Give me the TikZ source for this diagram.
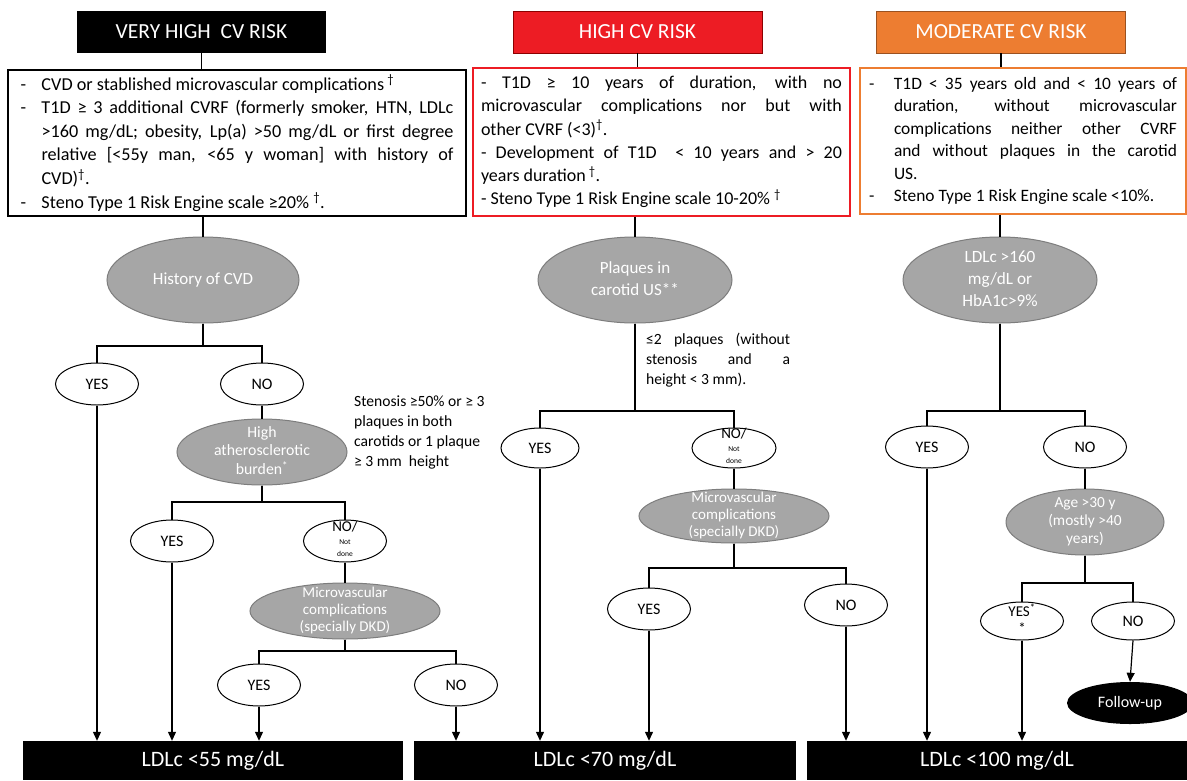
\documentclass[tikz,border=0pt]{standalone}
\usepackage{fontspec}
\setmainfont{Carlito}
\usetikzlibrary{shapes.geometric,arrows.meta}
\definecolor{hired}{RGB}{237,28,36}
\definecolor{modorange}{RGB}{237,125,49}
\definecolor{ellfill}{RGB}{166,166,166}
\definecolor{elldraw}{RGB}{125,125,125}
\newcommand\bul[1]{\noindent\hangindent=21pt\hangafter=1\makebox[21pt][l]{-}#1\par}
\newcommand\bulm[1]{\noindent\hangindent=25pt\hangafter=1\makebox[25pt][l]{-}#1\par}
\newcommand\ctext[1]{\smash{\makebox[0pt]{\raisebox{-0.25em}{\begin{tabular}{@{}c@{}}#1\end{tabular}}}}}
\begin{document}
\begin{tikzpicture}[x=1pt,y=-1pt,
  header/.style={rectangle, minimum width=249pt, minimum height=42pt, text=white, font=\fontsize{21.5}{24}\selectfont, inner sep=0pt},
  tbox/.style={rectangle, draw, line width=1.2pt, inner ysep=2pt, align=justify},
  gell/.style={ellipse, fill=ellfill, draw=elldraw, line width=1pt, text=white, inner sep=0pt},
  wel/.style={ellipse, draw=black, fill=white, line width=1pt, inner sep=0pt, minimum width=83pt, minimum height=42pt, font=\fontsize{16}{18}\selectfont},
  bar/.style={rectangle, fill=black, text=white, minimum height=39pt, inner sep=0pt, font=\fontsize{22}{24}\selectfont},
  conn/.style={line width=1.2pt},
  arr/.style={line width=1.2pt, -{Triangle[width=8pt,length=9pt]}},
  note/.style={font=\fontsize{15.6}{20}\selectfont, inner sep=0pt}
]
\useasboundingbox (0,0) rectangle (1187,780);
\fill[white] (0,0) rectangle (1187,780);

% headers
\node[header, fill=black] (h1) at (201.5,32) {VERY HIGH\ \ CV RISK};
\node[header, fill=hired, draw=red!55!black, line width=0.8pt] (h2) at (637.5,32) {HIGH CV RISK};
\node[header, fill=modorange, draw=modorange!65!black, line width=0.8pt] (h3) at (1001,32) {MODERATE CV RISK};

% criteria boxes
\node[tbox, draw=black, inner xsep=12.5pt, text width=433pt, minimum height=146pt, font=\fontsize{18.2}{23.6}\selectfont] (b1) at (237,143) {%
\bul{CVD or stablished microvascular complications\,\textsuperscript{†}}
\bul{T1D ≥ 3 additional CVRF (formerly smoker, HTN, LDLc\linebreak >160 mg/dL; obesity, Lp(a) >50 mg/dL or first degree\linebreak relative [<55y man, <65 y woman] with history of\linebreak CVD)\textsuperscript{†}.}
\bul{Steno Type 1 Risk Engine scale ≥20\% \textsuperscript{†}.}};

\node[tbox, draw=hired, inner xsep=8pt, text width=361pt, minimum height=148pt, font=\fontsize{18}{23.3}\selectfont] (b2) at (661.5,142) {%
\noindent - T1D ≥ 10 years of duration, with no\linebreak microvascular complications nor but with\linebreak other CVRF (<3)\textsuperscript{†}.\par
\noindent - Development of T1D\ \ < 10 years and > 20\linebreak years duration\,\textsuperscript{†}.\par
\noindent - Steno Type 1 Risk Engine scale 10-20\% \textsuperscript{†}\par};

\node[tbox, draw=modorange, inner xsep=9pt, text width=308pt, minimum height=146pt, font=\fontsize{17.4}{22.4}\selectfont] (b3) at (1023,141) {%
\bulm{T1D < 35 years old and < 10 years of\linebreak duration, without microvascular\linebreak complications neither other CVRF\linebreak and without plaques in the carotid\linebreak US.}
\bulm{Steno Type 1 Risk Engine scale <10\%.}};

% top decision ellipses
\node[gell, minimum width=192pt, minimum height=86pt, font=\fontsize{17}{20}\selectfont] (hist) at (203,280) {History of CVD};
\node[gell, minimum width=194pt, minimum height=86pt, font=\fontsize{17}{22}\selectfont] (plaq) at (635,280) {\ctext{Plaques in\\carotid US**}};
\node[gell, minimum width=194pt, minimum height=86pt, font=\fontsize{17.2}{22}\selectfont] (ldl) at (1000,280) {\ctext{LDLc >160\\mg/dL or\\HbA1c>9\%}};

\draw[conn] (h1.south) -- (h1.south |- b1.north);
\draw[conn] (h2.south) -- (h2.south |- b2.north);
\draw[conn] (h3.south) -- (h3.south |- b3.north);
\draw[conn] (hist.north |- b1.south) -- (hist.north);
\draw[conn] (plaq.north |- b2.south) -- (plaq.north);
\draw[conn] (ldl.north |- b3.south) -- (ldl.north);

% ---------- very high column
\coordinate (j1) at (203,346);
\node[wel] (y1) at (97,384) {YES};
\node[wel] (n1) at (262,384) {NO};
\draw[conn] (hist.south) -- (j1) -| (y1.north);
\draw[conn] (j1) -| (n1.north);
\node[gell, minimum width=170pt, minimum height=66pt, font=\fontsize{15.8}{18.5}\selectfont] (burden) at (262,452) {\ctext{High\\atherosclerotic\\burden\textsuperscript{*}}};
\draw[conn] (n1.south) -- (burden.north);
\node[note, anchor=north west, align=left] (sten) at (354,396) {Stenosis ≥50\% or ≥ 3\\plaques in both\\carotids or 1 plaque\\≥ 3 mm\ \ height};
\coordinate (j2) at (262,502);
\node[wel] (y2) at (172,541) {YES};
\node[wel, font=\fontsize{7.5}{12.5}\selectfont] (n2) at (345,541) {\ctext{{\fontsize{15}{14}\selectfont NO/}\\Not\\done}};
\draw[conn] (burden.south) -- (j2) -| (y2.north);
\draw[conn] (j2) -| (n2.north);
\node[gell, minimum width=190pt, minimum height=56pt, font=\fontsize{15}{17}\selectfont] (mv1) at (345,611) {\ctext{Microvascular\\complications\\(specially DKD)}};
\draw[conn] (n2.south) -- (mv1.north);
\coordinate (j3) at (345,651);
\node[wel] (y3) at (259,685) {YES};
\node[wel] (n3) at (456,685) {NO};
\draw[conn] (mv1.south) -- (j3) -| (y3.north);
\draw[conn] (j3) -| (n3.north);

% ---------- high column
\node[note, anchor=north west, text width=144pt, align=justify] (pl2) at (646,333) {≤2 plaques (without\linebreak stenosis and a\linebreak height < 3 mm).};
\coordinate (j4) at (635,411);
\node[wel, minimum width=78pt, minimum height=40pt] (y4) at (540,448) {YES};
\node[wel, minimum width=84pt, minimum height=40pt, font=\fontsize{7.5}{12.5}\selectfont] (n4) at (734,448) {\ctext{{\fontsize{15}{14}\selectfont NO/}\\Not\\done}};
\draw[conn] (plaq.south) -- (j4) -| (y4.north);
\draw[conn] (j4) -| (n4.north);
\node[gell, minimum width=190pt, minimum height=54pt, font=\fontsize{15}{17}\selectfont] (mv2) at (734,516) {\ctext{Microvascular\\complications\\(specially DKD)}};
\draw[conn] (n4.south) -- (mv2.north);
\coordinate (j5) at (734,568);
\node[wel] (y5) at (649,609) {YES};
\node[wel] (n5) at (846,605) {NO};
\draw[conn] (mv2.south) -- (j5) -| (y5.north);
\draw[conn] (j5) -| (n5.north);

% ---------- moderate column
\coordinate (j6) at (1000,411);
\node[wel] (y6) at (927,447) {YES};
\node[wel] (n6) at (1085,447) {NO};
\draw[conn] (ldl.south) -- (j6) -| (y6.north);
\draw[conn] (j6) -| (n6.north);
\node[gell, minimum width=158pt, minimum height=66pt, font=\fontsize{15.4}{18}\selectfont] (age) at (1085,522) {\ctext{Age >30 y\\(mostly >40\\years)}};
\draw[conn] (n6.south) -- (age.north);
\coordinate (j7) at (1085,583);
\node[wel, minimum height=38pt, font=\fontsize{15}{17}\selectfont] (y7) at (1022,621) {\ctext{YES\textsuperscript{*}\\**}};
\node[wel, minimum height=38pt] (n7) at (1133,621) {NO};
\draw[conn] (age.south) -- (j7) -| (y7.north);
\draw[conn] (j7) -| (n7.north);
\node[ellipse, fill=black, minimum width=126pt, minimum height=42pt, inner sep=0pt, text=white, font=\fontsize{16}{18}\selectfont] (fu) at (1130,703) {Follow-up};
\draw[arr] (n7.south) -- (fu.north);

% ---------- bottom targets
\node[bar, minimum width=380pt] (bar1) at (213,760.5) {LDLc <55 mg/dL};
\node[bar, minimum width=382pt] (bar2) at (605,760.5) {LDLc <70 mg/dL};
\node[bar, minimum width=380pt] (bar3) at (997,760.5) {LDLc <100 mg/dL};

\draw[arr] (y1.south) -- (y1.south |- bar1.north);
\draw[arr] (y2.south) -- (y2.south |- bar1.north);
\draw[arr] (y3.south) -- (y3.south |- bar1.north);
\draw[arr] (n3.south) -- (n3.south |- bar2.north);
\draw[arr] (y4.south) -- (y4.south |- bar2.north);
\draw[arr] (y5.south) -- (y5.south |- bar2.north);
\draw[arr] (n5.south) -- (n5.south |- bar3.north);
\draw[arr] (y6.south) -- (y6.south |- bar3.north);
\draw[arr] (y7.south) -- (y7.south |- bar3.north);
\end{tikzpicture}
\end{document}
